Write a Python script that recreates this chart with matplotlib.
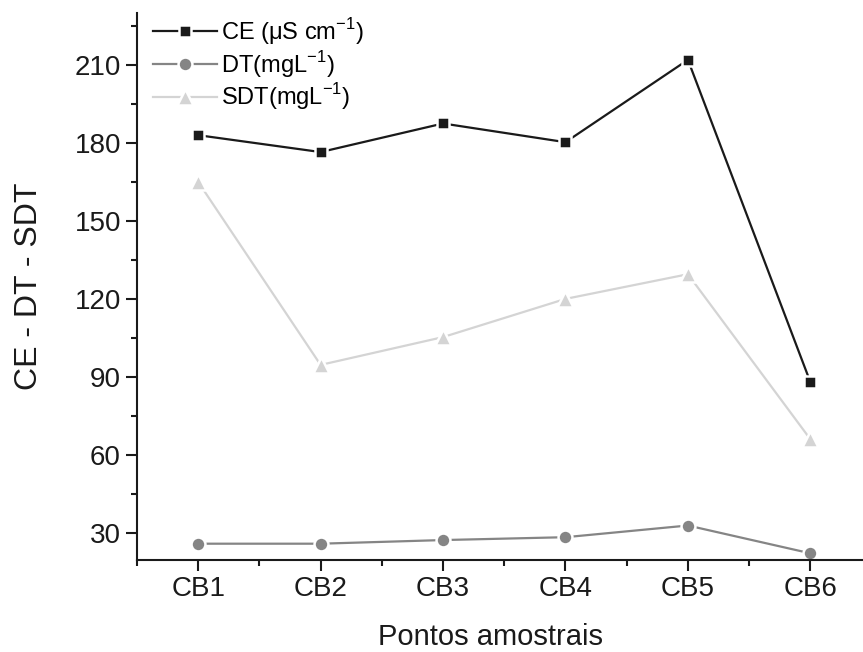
import matplotlib
matplotlib.use("Agg")
import matplotlib.pyplot as plt
from matplotlib.ticker import MultipleLocator

pontos = ["CB1", "CB2", "CB3", "CB4", "CB5", "CB6"]
ce = [183, 176.5, 187.5, 180.3, 212, 88]
dt = [25.8, 25.8, 27.2, 28.3, 32.8, 22.1]
sdt = [165, 94.6, 105.3, 120, 129.5, 66]

plt.rcParams['font.family'] = ['Liberation Sans', 'DejaVu Sans']

fig = plt.figure(figsize=(8.63, 6.52), dpi=100)
ax = fig.add_axes([0.1587, 0.141, 0.8413, 0.839])

x = list(range(1, len(pontos) + 1))
ax.plot(x, ce, color='#1a1a1a', lw=1.6, marker='s', ms=9, mfc='#1a1a1a',
        mec='white', mew=1.8, label=r'CE ($\mathregular{\mu}$S cm$^{\mathregular{-1}}$)')
ax.plot(x, dt, color='#858585', lw=1.6, marker='o', ms=10, mfc='#858585',
        mec='white', mew=1.8, label=r'DT(mgL$^{\mathregular{-1}}$)')
ax.plot(x, sdt, color='#d4d4d4', lw=1.6, marker='^', ms=12, mfc='#d4d4d4',
        mec='white', mew=1.8, label=r'SDT(mgL$^{\mathregular{-1}}$)')

ax.set_xlim(0.5, 6.43)
ax.set_ylim(19.5, 230)
ax.set_xticks(x)
ax.set_xticklabels(pontos)
ax.xaxis.set_minor_locator(MultipleLocator(0.5))
ax.yaxis.set_major_locator(MultipleLocator(30))
ax.yaxis.set_minor_locator(MultipleLocator(15))
ax.set_yticks([30, 60, 90, 120, 150, 180, 210])

for s in ['top', 'right']:
    ax.spines[s].set_visible(False)
for s in ['left', 'bottom']:
    ax.spines[s].set_linewidth(1.5)
    ax.spines[s].set_color('#1a1a1a')

ax.tick_params(which='major', direction='out', length=8, width=1.5,
               labelsize=20, pad=3.5, colors='#1a1a1a')
ax.tick_params(which='minor', direction='out', length=4.5, width=1.5, colors='#1a1a1a')

ax.set_xlabel("Pontos amostrais", fontsize=21, color='#1a1a1a')
ax.xaxis.set_label_coords(0.487, -0.115)
ax.set_ylabel("CE - DT - SDT", fontsize=23, labelpad=22, color='#1a1a1a')

leg = ax.legend(loc='upper left', bbox_to_anchor=(0.0, 1.025), frameon=False,
                fontsize=17, handlelength=2.7, handletextpad=0.15,
                labelspacing=0.08, borderaxespad=0.3)

fig.savefig("out.png", dpi=100)
